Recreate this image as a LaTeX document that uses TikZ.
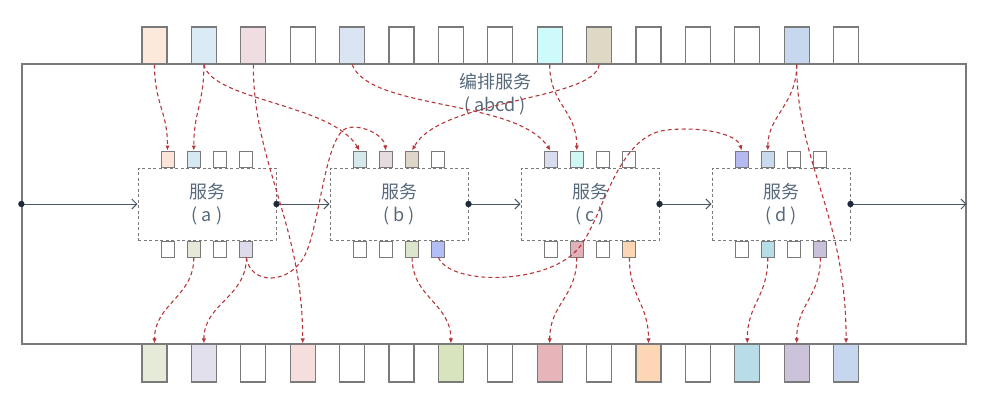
\documentclass[tikz,border=0pt]{standalone}
\usepackage{fontspec}
\newfontfamily\cjk{Noto Sans CJK SC}
\usetikzlibrary{arrows.meta}

\definecolor{frame}{HTML}{7A7A7A}
\definecolor{txt}{HTML}{56697A}
\definecolor{flow}{HTML}{4A5866}
\definecolor{dot}{HTML}{1E2A3A}
\definecolor{link}{HTML}{B5373C}

\tikzset{
  slot/.style={draw=frame, line width=1.1pt, minimum width=25pt, minimum height=37pt, inner sep=0pt},
  port/.style={draw=frame, line width=1pt, minimum width=13pt, minimum height=16pt, inner sep=0pt},
  svc/.style={draw=frame, dash pattern=on 3pt off 2.5pt, line width=1pt, minimum width=138pt,
    minimum height=72pt, align=center, text=txt, font=\cjk\fontsize{18}{23}\selectfont},
  flowline/.style={draw=flow, line width=1pt, -{Straight Barb[length=5pt,width=10pt]}},
  link/.style={draw=link, line width=1.1pt, dash pattern=on 4pt off 3pt, -{Latex[length=5pt,width=4.5pt]}},
}

\begin{document}
\begin{tikzpicture}[x=1pt, y=-1pt]
    \useasboundingbox (0,0) rectangle (1000,404);
    % orchestration frame
    \node[draw=frame, line width=1.3pt, minimum width=944pt, minimum height=280pt, inner sep=0pt] (orch) at (494,204) {};
    \node[text=txt, align=center, font=\cjk\fontsize{18}{23}\selectfont] (orchlbl) at (495,94) {编排服务\\(\ abcd\ )};
    % slots above and below the frame
    \foreach \col [count=\i from 0] in {FCE9DC,DAEBF5,F0DDE2,FFFFFF,DBE4F2,FFFFFF,FFFFFF,FFFFFF,CDFAFA,DDD9C4,FFFFFF,FFFFFF,FFFFFF,C6D7EE,FFFFFF} {
      \definecolor{cur}{HTML}{\col}
      \node[slot, fill=cur] (top\i) at ({154.5+49.4*\i},45.5) {};
    }
    \foreach \col [count=\i from 0] in {E5EBD8,E3E0ED,FFFFFF,F6DEDC,FFFFFF,FFFFFF,D8E4BE,FFFFFF,E6B4B9,FFFFFF,FCD6B5,FFFFFF,B8DDE8,CCC2DA,C6D6EF} {
      \definecolor{cur}{HTML}{\col}
      \node[slot, minimum height=38pt, fill=cur] (bot\i) at ({154.5+49.4*\i},363) {};
    }
    % services
    \foreach \lbl/\x in {a/207,b/399,c/590,d/781}
      \node[svc] (s\lbl) at (\x,204) {服务\\(\ \lbl\ )};
    % ports: service/index/in colour/out colour
    \foreach \lbl/\j/\cin/\cout in {a/0/FCE4D6/FFFFFF, a/1/D6E8F2/E6E8D8, a/2/FFFFFF/FFFFFF, a/3/FFFFFF/DEDCEB,
        b/0/D5E9EC/FFFFFF, b/1/E6DCDF/FFFFFF, b/2/DDD6C9/DCE6CC, b/3/FFFFFF/B3BDF6,
        c/0/D9DCEF/FFFFFF, c/1/CFF8F5/E2B0B8, c/2/FFFFFF/FFFFFF, c/3/FFFFFF/FCD5B4,
        d/0/B6B9F1/FFFFFF, d/1/CADAEE/B7DDE8, d/2/FFFFFF/FFFFFF, d/3/FFFFFF/C9C0DC} {
      \definecolor{curin}{HTML}{\cin}
      \definecolor{curout}{HTML}{\cout}
      \node[port, fill=curin, anchor=south] (in\lbl\j) at ([xshift={-39.5pt+26.3pt*\j}]s\lbl.north) {};
      \node[port, fill=curout, anchor=north] (out\lbl\j) at ([xshift={-39.5pt+26.3pt*\j}]s\lbl.south) {};
    }
    % main flow
    \draw[flowline] (orch.west) -- (sa.west);
    \draw[flowline] (sa.east) -- (sb.west);
    \draw[flowline] (sb.east) -- (sc.west);
    \draw[flowline] (sc.east) -- (sd.west);
    \draw[flowline] (sd.east) -- (orch.east);
    \foreach \p in {orch.west,sa.east,sb.east,sc.east,sd.east}
      \fill[dot] (\p) circle (3.2pt);
    % data links
    \draw[link] (top0.south) .. controls +(0,40) and +(0,-40) .. (ina0.north);
    \draw[link] (top1.south) .. controls +(0,40) and +(0,-40) .. (ina1.north);
    \draw[link] (top1.south) .. controls +(8,36) and +(-28,-47) .. (inb0.north);
    \draw[link] (top2.south) .. controls +(0,100) and +(0,-120) .. (bot3.north);
    \draw[link] (top4.south) .. controls +(18,46) and +(-35,-52) .. (inc0.north);
    \draw[link] (top9.south) .. controls +(-4,36) and +(28,-52) .. (inb2.north);
    \draw[link] (top8.south) .. controls +(0,40) and +(0,-40) .. (inc1.north);
    \draw[link] (top13.south) .. controls +(0,40) and +(0,-35) .. (ind1.north);
    \draw[link] (top13.south) .. controls +(0,100) and +(0,-130) .. (bot14.north);
    \draw[link] (outa1.south) .. controls +(0,40) and +(0,-40) .. (bot0.north);
    \draw[link] (outa3.south) .. controls +(0,40) and +(0,-40) .. (bot1.north);
    \draw[link] (outa3.south) .. controls +(4,28) and (290,285) .. (305,255)
      .. controls (320,225) and (325,135) .. (347,128) .. controls (362,124) and (384,135) .. (inb1.north);
    \draw[link] (outb2.south) .. controls +(0,40) and +(0,-40) .. (bot6.north);
    \draw[link] (outb3.south) .. controls +(12,28) and (545,285) .. (577,250)
      .. controls (603,222) and (615,135) .. (667,130) .. controls (705,126) and (738,135) .. (ind0.north);
    \draw[link] (outc1.south) .. controls +(0,40) and +(0,-40) .. (bot8.north);
    \draw[link] (outc3.south) .. controls +(0,40) and +(0,-40) .. (bot10.north);
    \draw[link] (outd1.south) .. controls +(0,40) and +(0,-40) .. (bot12.north);
    \draw[link] (outd3.south) .. controls +(0,40) and +(0,-40) .. (bot13.north);
\end{tikzpicture}
\end{document}
